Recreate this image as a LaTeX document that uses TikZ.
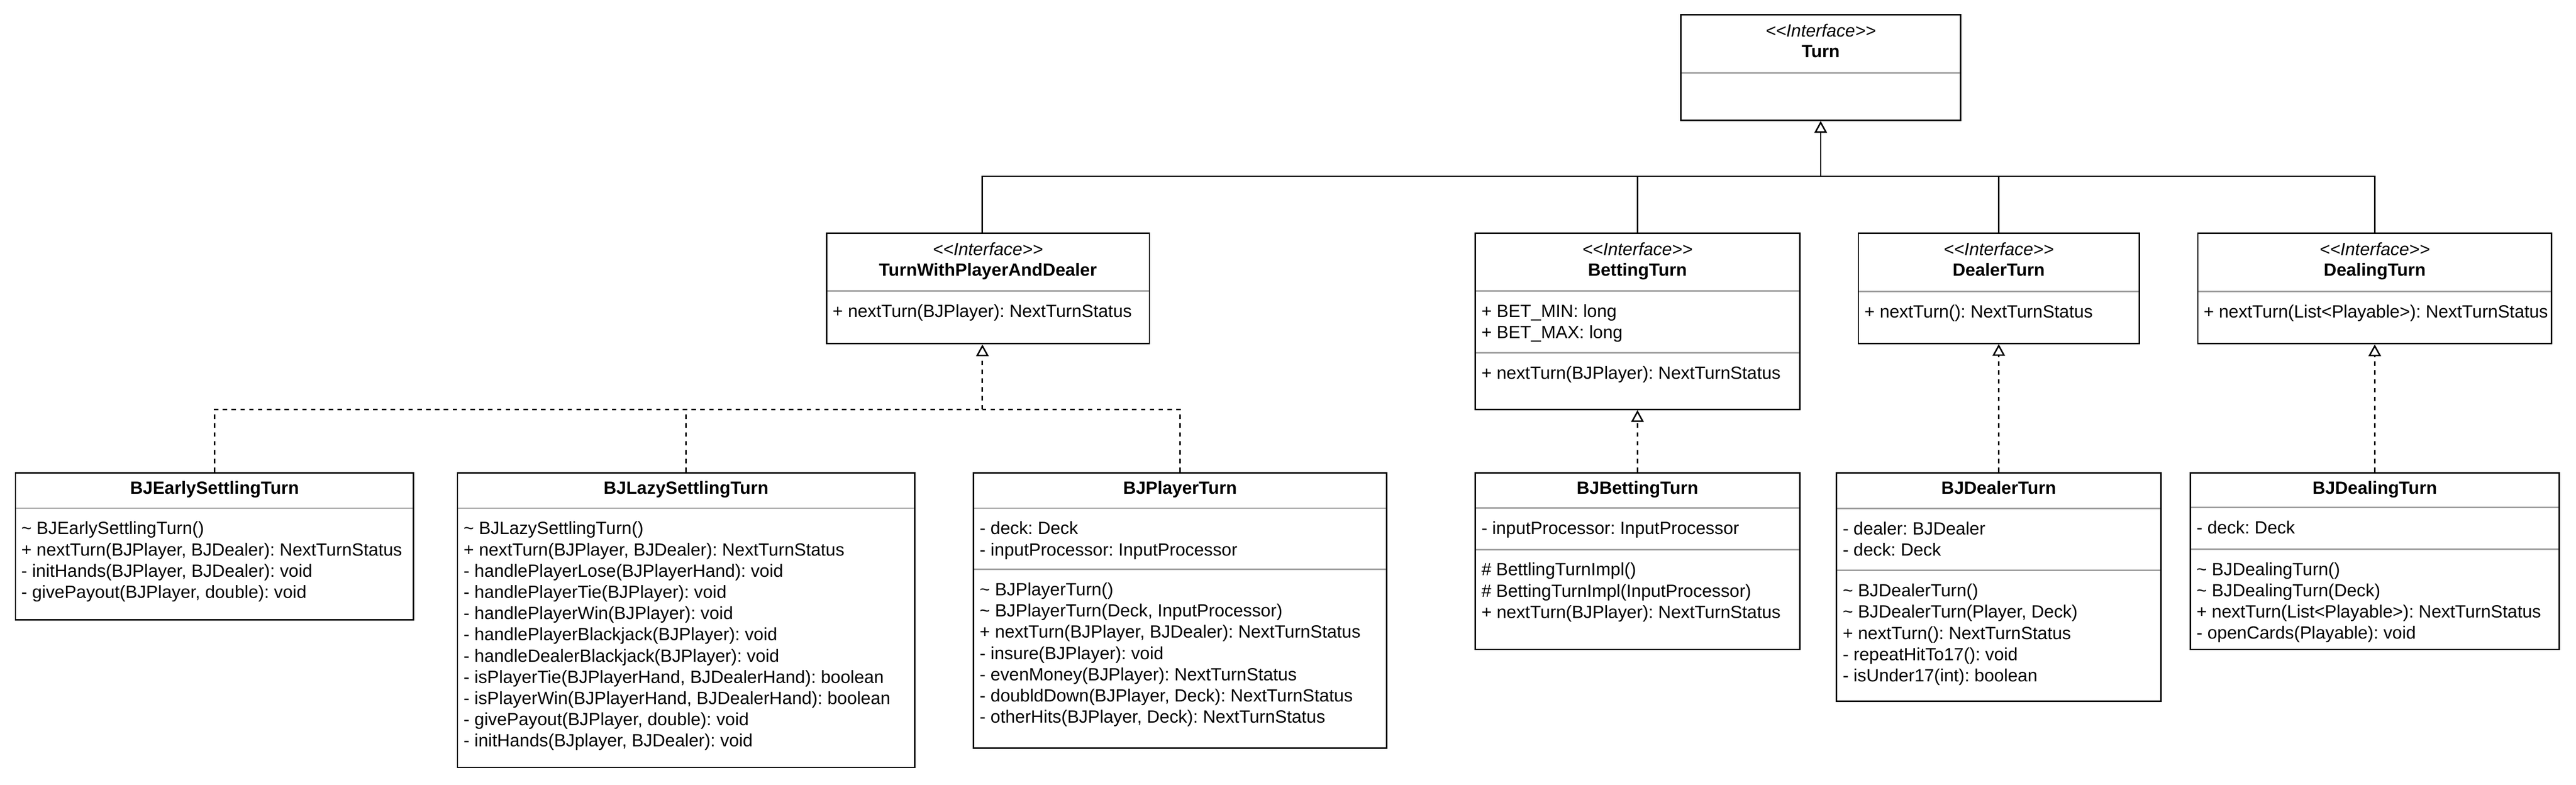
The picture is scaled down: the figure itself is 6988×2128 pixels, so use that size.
\documentclass[tikz,border=0pt]{standalone}
\usepackage{fontspec}
\setmainfont{Liberation Sans}
\usetikzlibrary{arrows.meta}
\definecolor{sepgray}{RGB}{158,158,158}
\frenchspacing
\newcommand{\utl}{\textasciitilde\ }
\newcommand{\umlbox}[5]{%
  \pgfmathsetmacro{\ubw}{(#4-#2)*0.25}%
  \pgfmathsetmacro{\ubh}{(#5-#3)*0.25}%
  \node[umlrect, minimum width=\ubw pt, minimum height=\ubh pt] (#1) at ({(#2+#4)/2},{(#3+#5)/2}) {};%
}
\newcommand{\usep}[2]{\draw[sepline] (#1.west |- 0,#2) -- (#1.east |- 0,#2);}
\newcommand{\ulines}[4]{%
  \foreach \utext [count=\ui from 0] in {#4} {%
    \node[utxt] (#1\ui) at ({#2},{#3+57.6*\ui}) {\utext};%
  }}
\begin{document}
\begin{tikzpicture}[x=0.25pt, y=-0.25pt,
  umlrect/.style={draw=black, line width=1pt, fill=white, rectangle, inner sep=0pt},
  sepline/.style={draw=sepgray, line width=1pt, shorten <=1pt, shorten >=1pt},
  utxt/.style={anchor=base west, inner sep=0pt, font=\fontsize{12}{14.4}\selectfont\frenchspacing},
  uname/.style={anchor=base, inner sep=0pt, font=\fontsize{12}{14.4}\selectfont\bfseries},
  ustereo/.style={anchor=base, inner sep=0pt, font=\fontsize{12}{14.4}\selectfont\itshape},
  conn/.style={draw=black, line width=1pt},
  realize/.style={conn, dash pattern=on 3pt off 3pt},
  gen/.style={-{Triangle[open, length=8pt, width=8.5pt, line width=1pt]}}
]
\fill[white] (0,0) rectangle (6988,2128);
\useasboundingbox (0,0) rectangle (6988,2128);

% ---------- Turn ----------
\umlbox{turn}{4560}{40}{5318}{326}
\usep{turn}{198}
\node[ustereo] (turnst) at (turn.center |- 0,100) {<{}<Interface>{}>};
\node[uname] (turnnm) at (turn.center |- 0,156) {Turn};

% ---------- TurnWithPlayerAndDealer ----------
\umlbox{twpad}{2242}{632}{3118}{932}
\usep{twpad}{789}
\node[ustereo] (twpadst) at (twpad.center |- 0,692) {<{}<Interface>{}>};
\node[uname] (twpadnm) at (twpad.center |- 0,748) {TurnWithPlayerAndDealer};
\ulines{twpadm}{2258}{860}{{+ nextTurn(BJPlayer): NextTurnStatus}}

% ---------- BettingTurn ----------
\umlbox{betting}{4002}{632}{4882}{1110}
\usep{betting}{789}
\usep{betting}{957}
\node[ustereo] (bettingst) at (betting.center |- 0,692) {<{}<Interface>{}>};
\node[uname] (bettingnm) at (betting.center |- 0,748) {BettingTurn};
\ulines{bettinga}{4018}{860}{{+ BET\_MIN: long},{+ BET\_MAX: long}}
\ulines{bettingm}{4018}{1028}{{+ nextTurn(BJPlayer): NextTurnStatus}}

% ---------- DealerTurn ----------
\umlbox{dealer}{5041}{632}{5803}{931}
\usep{dealer}{790}
\node[ustereo] (dealerst) at (dealer.center |- 0,692) {<{}<Interface>{}>};
\node[uname] (dealernm) at (dealer.center |- 0,748) {DealerTurn};
\ulines{dealerm}{5057}{861}{{+ nextTurn(): NextTurnStatus}}

% ---------- DealingTurn ----------
\umlbox{dealing}{5962}{632}{6922}{932}
\usep{dealing}{790}
\node[ustereo] (dealingst) at (dealing.center |- 0,692) {<{}<Interface>{}>};
\node[uname] (dealingnm) at (dealing.center |- 0,748) {DealingTurn};
\ulines{dealingm}{5977}{861}{{+ nextTurn(List<Playable>): NextTurnStatus}}

% ---------- BJEarlySettlingTurn ----------
\umlbox{early}{42}{1282}{1122}{1681}
\usep{early}{1378}
\node[uname] (earlynm) at (early.center |- 0,1340) {BJEarlySettlingTurn};
\ulines{earlym}{57}{1449}{{\utl BJEarlySettlingTurn()},{+ nextTurn(BJPlayer, BJDealer): NextTurnStatus},{- initHands(BJPlayer, BJDealer): void},{- givePayout(BJPlayer, double): void}}

% ---------- BJLazySettlingTurn ----------
\umlbox{lazy}{1241}{1282}{2481}{2081}
\usep{lazy}{1378}
\node[uname] (lazynm) at (lazy.center |- 0,1340) {BJLazySettlingTurn};
\ulines{lazym}{1257}{1449}{{\utl BJLazySettlingTurn()},{+ nextTurn(BJPlayer, BJDealer): NextTurnStatus},{- handlePlayerLose(BJPlayerHand): void},{- handlePlayerTie(BJPlayer): void},{- handlePlayerWin(BJPlayer): void},{- handlePlayerBlackjack(BJPlayer): void},{- handleDealerBlackjack(BJPlayer): void},{- isPlayerTie(BJPlayerHand, BJDealerHand): boolean},{- isPlayerWin(BJPlayerHand, BJDealerHand): boolean},{- givePayout(BJPlayer, double): void},{- initHands(BJplayer, BJDealer): void}}

% ---------- BJPlayerTurn ----------
\umlbox{player}{2641}{1282}{3761}{2029}
\usep{player}{1378}
\usep{player}{1544}
\node[uname] (playernm) at (player.center |- 0,1340) {BJPlayerTurn};
\ulines{playera}{2657}{1449}{{- deck: Deck},{- inputProcessor: InputProcessor}}
\ulines{playerm}{2657}{1615}{{\utl BJPlayerTurn()},{\utl BJPlayerTurn(Deck, InputProcessor)},{+ nextTurn(BJPlayer, BJDealer): NextTurnStatus},{- insure(BJPlayer): void},{- evenMoney(BJPlayer): NextTurnStatus},{- doubldDown(BJPlayer, Deck): NextTurnStatus},{- otherHits(BJPlayer, Deck): NextTurnStatus}}

% ---------- BJBettingTurn ----------
\umlbox{bjbetting}{4002}{1282}{4882}{1761}
\usep{bjbetting}{1377}
\usep{bjbetting}{1490}
\node[uname] (bjbettingnm) at (bjbetting.center |- 0,1340) {BJBettingTurn};
\ulines{bjbettinga}{4018}{1448}{{- inputProcessor: InputProcessor}}
\ulines{bjbettingm}{4018}{1561}{{\# BettlingTurnImpl()},{\# BettingTurnImpl(InputProcessor)},{+ nextTurn(BJPlayer): NextTurnStatus}}

% ---------- BJDealerTurn ----------
\umlbox{bjdealer}{4982}{1282}{5862}{1901}
\usep{bjdealer}{1379}
\usep{bjdealer}{1547}
\node[uname] (bjdealernm) at (bjdealer.center |- 0,1340) {BJDealerTurn};
\ulines{bjdealera}{4998}{1450}{{- dealer: BJDealer},{- deck: Deck}}
\ulines{bjdealerm}{4998}{1618}{{\utl BJDealerTurn()},{\utl BJDealerTurn(Player, Deck)},{+ nextTurn(): NextTurnStatus},{- repeatHitTo17(): void},{- isUnder17(int): boolean}}

% ---------- BJDealingTurn ----------
\umlbox{bjdealing}{5942}{1282}{6942}{1761}
\usep{bjdealing}{1376}
\usep{bjdealing}{1489}
\node[uname] (bjdealingnm) at (bjdealing.center |- 0,1340) {BJDealingTurn};
\ulines{bjdealinga}{5958}{1447}{{- deck: Deck}}
\ulines{bjdealingm}{5958}{1560}{{\utl BJDealingTurn()},{\utl BJDealingTurn(Deck)},{+ nextTurn(List<Playable>): NextTurnStatus},{- openCards(Playable): void}}

% ---------- generalization to Turn ----------
\coordinate (bus) at (turn.south |- 0,478);
\coordinate (twpadtop) at ([xshift=-3.75pt]twpad.north);
\coordinate (twpadbot) at ([xshift=-3.75pt]twpad.south);
\draw[conn] (twpadtop) |- (bus);
\draw[conn] (betting.north) |- (bus);
\draw[conn] (dealer.north) |- (bus);
\draw[conn] (dealing.north) |- (bus);
\draw[conn, gen] (bus) -- (turn.south);

% ---------- realization of TurnWithPlayerAndDealer ----------
\coordinate (bus2) at (twpadbot |- 0,1110);
\draw[realize] (early.north) |- (bus2);
\draw[realize] (player.north) |- (bus2);
\draw[realize] (lazy.north) -- (lazy.north |- bus2);
\draw[realize, gen] (bus2) -- (twpadbot);

% ---------- other realizations ----------
\draw[realize, gen] (bjbetting.north) -- (betting.south);
\draw[realize, gen] (bjdealer.north) -- (dealer.south);
\draw[realize, gen] (bjdealing.north) -- (dealing.south);
\end{tikzpicture}
\end{document}
